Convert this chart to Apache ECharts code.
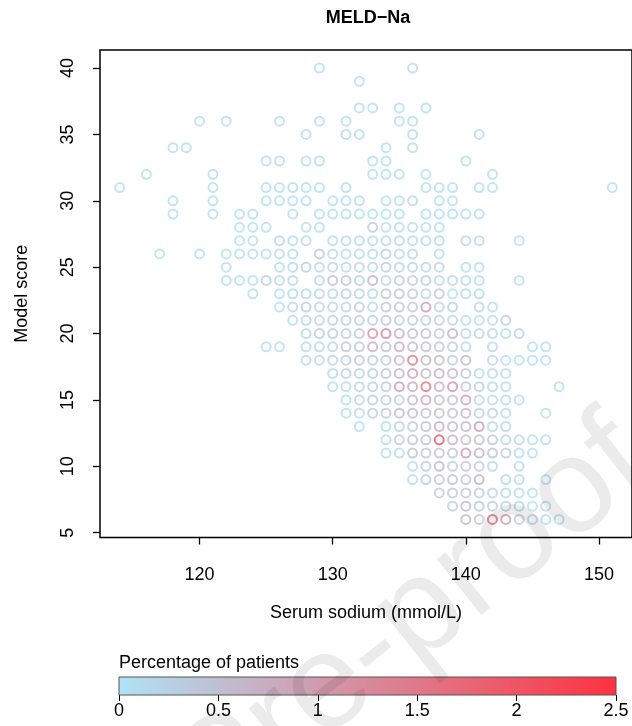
<!DOCTYPE html>
<html>
<head>
<meta charset="utf-8">
<script src="https://cdn.jsdelivr.net/npm/echarts@6/dist/echarts.min.js"></script>
<style>
  html, body { margin: 0; padding: 0; background: #fff; overflow: hidden; }
  #chart { width: 632px; height: 726px; }
</style>
</head>
<body>
<div id="chart"></div>
<script>
// Model score (one row per score value)
const rowScore = [40, 39, 37, 36, 35, 34, 33, 32, 31, 30, 29, 28, 27, 26, 25, 24, 23, 22, 21, 20,
                  19, 18, 17, 16, 15, 14, 13, 12, 11, 10, 9, 8, 7, 6];

// Serum sodium (mmol/L) of each occupied cell, per score row
const rowSodium = [
  [129, 136],
  [132],
  [132, 133, 135, 137],
  [120, 122, 126, 129, 131, 135, 136],
  [128, 131, 132, 136, 141],
  [118, 119, 134, 136],
  [125, 126, 128, 129, 133, 134, 140],
  [116, 121, 133, 134, 135, 137, 142],
  [114, 121, 125, 126, 127, 128, 129, 131, 137, 138, 139, 141, 142, 151],
  [118, 121, 125, 126, 127, 128, 130, 131, 132, 134, 135, 136, 138, 139],
  [118, 121, 123, 124, 127, 129, 130, 131, 132, 133, 134, 135, 137, 138, 139, 140, 141],
  [123, 124, 125, 128, 129, 133, 134, 135, 136, 137, 138],
  [123, 124, 126, 127, 128, 130, 131, 132, 133, 134, 135, 136, 137, 138, 140, 141, 144],
  [117, 120, 122, 123, 124, 125, 126, 127, 129, 130, 131, 132, 133, 134, 135, 136, 138],
  [122, 126, 127, 128, 129, 130, 131, 132, 133, 134, 135, 136, 137, 138, 140, 141],
  [122, 123, 124, 125, 126, 127, 129, 130, 131, 132, 133, 134, 135, 136, 137, 138, 139, 140, 141, 144],
  [124, 126, 127, 128, 129, 130, 131, 132, 133, 134, 135, 136, 137, 138, 139, 140, 141],
  [126, 127, 128, 129, 130, 131, 132, 133, 134, 135, 136, 137, 138, 139, 141, 142],
  [127, 128, 129, 130, 131, 132, 133, 134, 135, 136, 137, 138, 139, 140, 141, 142, 143],
  [128, 129, 130, 131, 132, 133, 134, 135, 136, 137, 138, 139, 140, 141, 142, 143, 144],
  [125, 126, 128, 129, 130, 131, 132, 133, 134, 135, 136, 137, 138, 139, 140, 142, 145, 146],
  [128, 129, 130, 131, 132, 133, 134, 135, 136, 137, 138, 139, 140, 142, 143, 144, 145, 146],
  [130, 131, 132, 133, 134, 135, 136, 137, 138, 139, 140, 141, 142, 143],
  [130, 131, 132, 133, 134, 135, 136, 137, 138, 139, 140, 141, 142, 143, 147],
  [131, 132, 133, 134, 135, 136, 137, 138, 139, 140, 141, 142, 143, 144],
  [131, 132, 133, 134, 135, 136, 137, 138, 139, 140, 141, 142, 143, 146],
  [132, 134, 135, 136, 137, 138, 139, 140, 141, 142, 143],
  [134, 135, 136, 137, 138, 139, 140, 141, 142, 143, 144, 145, 146],
  [134, 135, 136, 137, 138, 139, 140, 141, 142, 143, 144, 145],
  [136, 137, 138, 139, 140, 141, 142, 144],
  [136, 137, 138, 139, 140, 141, 143, 144, 146],
  [138, 139, 140, 141, 142, 143, 144, 145],
  [139, 140, 141, 142, 143, 144, 145, 146],
  [140, 141, 142, 143, 144, 145, 146, 147]
];

// Percentage of patients in each cell, same layout as rowSodium
const rowPct = [
  [0.05, 0.10],
  [0.05],
  [0.05, 0.05, 0.05, 0.05],
  [0.05, 0.05, 0.05, 0.05, 0.05, 0.05, 0.05],
  [0.05, 0.15, 0.05, 0.10, 0.05],
  [0.05, 0.05, 0.05, 0.05],
  [0.05, 0.05, 0.05, 0.10, 0.05, 0.05, 0.05],
  [0.05, 0.10, 0.05, 0.05, 0.05, 0.05, 0.05],
  [0.05, 0.05, 0.05, 0.05, 0.10, 0.05, 0.05, 0.10, 0.05, 0.05, 0.05, 0.05, 0.05, 0.05],
  [0.05, 0.05, 0.05, 0.05, 0.05, 0.08, 0.05, 0.05, 0.12, 0.05, 0.05, 0.12, 0.05, 0.05],
  [0.05, 0.05, 0.05, 0.05, 0.05, 0.05, 0.05, 0.12, 0.05, 0.05, 0.05, 0.05, 0.05, 0.05, 0.05, 0.05, 0.05],
  [0.05, 0.05, 0.05, 0.05, 0.05, 0.30, 0.05, 0.05, 0.05, 0.05, 0.05],
  [0.05, 0.05, 0.20, 0.10, 0.10, 0.10, 0.10, 0.10, 0.10, 0.10, 0.20, 0.10, 0.10, 0.15, 0.15, 0.10, 0.05],
  [0.05, 0.05, 0.05, 0.05, 0.05, 0.05, 0.10, 0.10, 0.40, 0.10, 0.10, 0.10, 0.10, 0.25, 0.10, 0.20, 0.05],
  [0.05, 0.10, 0.15, 0.25, 0.15, 0.20, 0.15, 0.20, 0.15, 0.30, 0.20, 0.20, 0.15, 0.20, 0.05, 0.05],
  [0.05, 0.05, 0.05, 0.30, 0.10, 0.15, 0.15, 0.50, 0.45, 0.30, 0.70, 0.20, 0.30, 0.30, 0.30, 0.15, 0.20, 0.10, 0.10, 0.05],
  [0.05, 0.05, 0.15, 0.20, 0.15, 0.15, 0.25, 0.20, 0.15, 0.40, 0.40, 0.30, 0.20, 0.35, 0.05, 0.10, 0.10],
  [0.05, 0.15, 0.30, 0.20, 0.15, 0.20, 0.30, 0.15, 0.40, 0.40, 0.30, 1.00, 0.20, 0.25, 0.20, 0.05],
  [0.10, 0.20, 0.20, 0.25, 0.30, 0.30, 0.30, 0.40, 0.30, 0.30, 0.30, 0.25, 0.20, 0.05, 0.10, 0.10, 0.25],
  [0.20, 0.35, 0.30, 0.30, 0.35, 1.10, 1.30, 0.70, 0.50, 0.50, 0.30, 0.70, 0.15, 0.20, 0.15, 0.10, 0.20],
  [0.05, 0.05, 0.10, 0.15, 0.20, 0.40, 0.40, 0.70, 0.50, 0.80, 0.60, 0.50, 0.40, 0.30, 0.15, 0.15, 0.05, 0.05],
  [0.10, 0.15, 0.20, 0.30, 0.40, 0.30, 0.40, 0.60, 1.50, 0.70, 0.55, 0.30, 0.60, 0.15, 0.05, 0.05, 0.05, 0.05],
  [0.15, 0.25, 0.25, 0.30, 0.45, 0.65, 0.90, 0.60, 0.70, 0.60, 0.40, 0.10, 0.10, 0.05],
  [0.05, 0.10, 0.20, 0.25, 0.40, 1.00, 0.80, 1.50, 0.70, 1.10, 0.40, 0.30, 0.15, 0.05, 0.05],
  [0.10, 0.20, 0.30, 0.35, 0.30, 0.60, 0.80, 0.50, 0.50, 0.90, 0.20, 0.10, 0.10, 0.05],
  [0.05, 0.10, 0.30, 0.35, 0.60, 0.60, 0.50, 0.55, 0.50, 0.60, 0.30, 0.25, 0.10, 0.05],
  [0.05, 0.10, 0.20, 0.30, 0.50, 0.75, 0.60, 0.60, 1.00, 0.15, 0.15],
  [0.05, 0.30, 0.40, 0.50, 2.00, 0.70, 0.50, 0.50, 0.40, 0.15, 0.10, 0.05, 0.05],
  [0.05, 0.10, 0.50, 0.40, 0.50, 0.40, 1.00, 0.70, 0.50, 0.30, 0.10, 0.05],
  [0.05, 0.30, 0.65, 0.30, 0.40, 0.30, 0.15, 0.10],
  [0.05, 0.30, 0.40, 0.50, 0.40, 0.70, 0.20, 0.10, 0.05],
  [0.30, 0.40, 0.40, 0.30, 0.20, 0.15, 0.10, 0.05],
  [0.30, 0.60, 0.40, 0.30, 0.20, 0.20, 0.05, 0.05],
  [0.60, 0.40, 1.60, 1.00, 0.35, 0.15, 0.10, 0.05]
];

const xTicks = [120, 130, 140, 150];
const yTicks = [5, 10, 15, 20, 25, 30, 35, 40];
const pctTicks = [0, 0.5, 1, 1.5, 2, 2.5];
const pctMax = 2.5;
const lowColor = '#B0E2F6';
const highColor = '#FF3140';

const FONT = '"Liberation Sans", Arial, Helvetica, sans-serif';

// Flatten the rows into [sodium, score, pct] triples
const points = [];
rowScore.forEach((s, i) => {
  rowSodium[i].forEach((na, j) => points.push([na, s, rowPct[i][j]]));
});

// Axis limits padded by 4% of the data range on each side
const allNa = points.map(p => p[0]);
const allScore = points.map(p => p[1]);
const pad = (lo, hi) => [lo - 0.04 * (hi - lo), hi + 0.04 * (hi - lo)];
const [xMin, xMax] = pad(Math.min(...allNa), Math.max(...allNa));
const [yMin, yMax] = pad(Math.min(...allScore), Math.max(...allScore));

const chart = echarts.init(document.getElementById('chart'), null, { renderer: 'canvas' });

const option = {
  animation: false,
  backgroundColor: '#fff',
  textStyle: { fontFamily: FONT },
  grid: [
    { left: 100, top: 50, width: 536.6, height: 487.5, show: true,
      borderColor: '#000', borderWidth: 1.5, backgroundColor: 'transparent' },
    { left: 119, top: 677, width: 497, height: 18 }
  ],
  xAxis: [
    {
      type: 'value', gridIndex: 0, min: xMin, max: xMax,
      name: 'Serum sodium (mmol/L)', nameLocation: 'middle', nameGap: 67,
      nameTextStyle: { fontSize: 18, color: '#000', fontFamily: FONT },
      axisLine: { show: false }, splitLine: { show: false },
      axisTick: { show: true, length: 7, customValues: xTicks, lineStyle: { color: '#000', width: 1.3 } },
      axisLabel: { customValues: xTicks, fontSize: 18, color: '#000', margin: 29, fontFamily: FONT }
    },
    {
      type: 'value', gridIndex: 1, min: 0, max: pctMax,
      axisLine: { show: false }, splitLine: { show: false },
      axisTick: { show: true, length: 6, customValues: pctTicks, lineStyle: { color: '#000', width: 1 } },
      axisLabel: { customValues: pctTicks, fontSize: 18, color: '#000', margin: 7, fontFamily: FONT,
                   formatter: v => String(v) }
    }
  ],
  yAxis: [
    {
      type: 'value', gridIndex: 0, min: yMin, max: yMax,
      name: 'Model score', nameLocation: 'middle', nameGap: 69,
      nameTextStyle: { fontSize: 18, color: '#000', fontFamily: FONT },
      axisLine: { show: false }, splitLine: { show: false },
      axisTick: { show: true, length: 7, customValues: yTicks, lineStyle: { color: '#000', width: 1.3 } },
      axisLabel: { customValues: yTicks, fontSize: 18, color: '#000', margin: 23, rotate: 90, fontFamily: FONT }
    },
    { type: 'value', gridIndex: 1, min: 0, max: 1, show: false }
  ],
  visualMap: {
    show: false, type: 'continuous', min: 0, max: pctMax, dimension: 2, seriesIndex: 0,
    inRange: { color: [lowColor, highColor] }
  },
  series: [
    {
      type: 'scatter', xAxisIndex: 0, yAxisIndex: 0,
      data: points,
      symbol: 'emptyCircle', symbolSize: 9,
      itemStyle: { borderWidth: 2 },
      emphasis: { disabled: true },
      silent: true
    },
    {
      // colour bar
      type: 'custom', xAxisIndex: 1, yAxisIndex: 1,
      data: [[0, pctMax]],
      silent: true,
      renderItem: (params, api) => {
        const p0 = api.coord([api.value(0), 1]);
        const p1 = api.coord([api.value(1), 0]);
        return {
          type: 'rect',
          shape: { x: p0[0], y: p0[1], width: p1[0] - p0[0], height: p1[1] - p0[1] },
          style: {
            fill: new echarts.graphic.LinearGradient(0, 0, 1, 0, [
              { offset: 0, color: lowColor }, { offset: 1, color: highColor }
            ]),
            stroke: '#555', lineWidth: 1
          }
        };
      }
    }
  ],
  graphic: [
    { type: 'text', x: 368, y: 18, z: 10,
      style: { text: 'MELD\u2212Na', fill: '#000', font: 'bold 18px ' + FONT, textAlign: 'center', textVerticalAlign: 'middle' } },
    { type: 'text', x: 119, y: 663, z: 10,
      style: { text: 'Percentage of patients', fill: '#000', font: '18px ' + FONT, textAlign: 'left', textVerticalAlign: 'middle' } },
    { type: 'text', x: 675, y: 500, rotation: 0.67, z: 100, silent: true,
      style: { text: 'Journal Pre-proof', fill: 'rgba(0,0,0,0.08)', font: '135px ' + FONT, textAlign: 'right', textVerticalAlign: 'bottom' } }
  ]
};

chart.setOption(option);
</script>
</body>
</html>
